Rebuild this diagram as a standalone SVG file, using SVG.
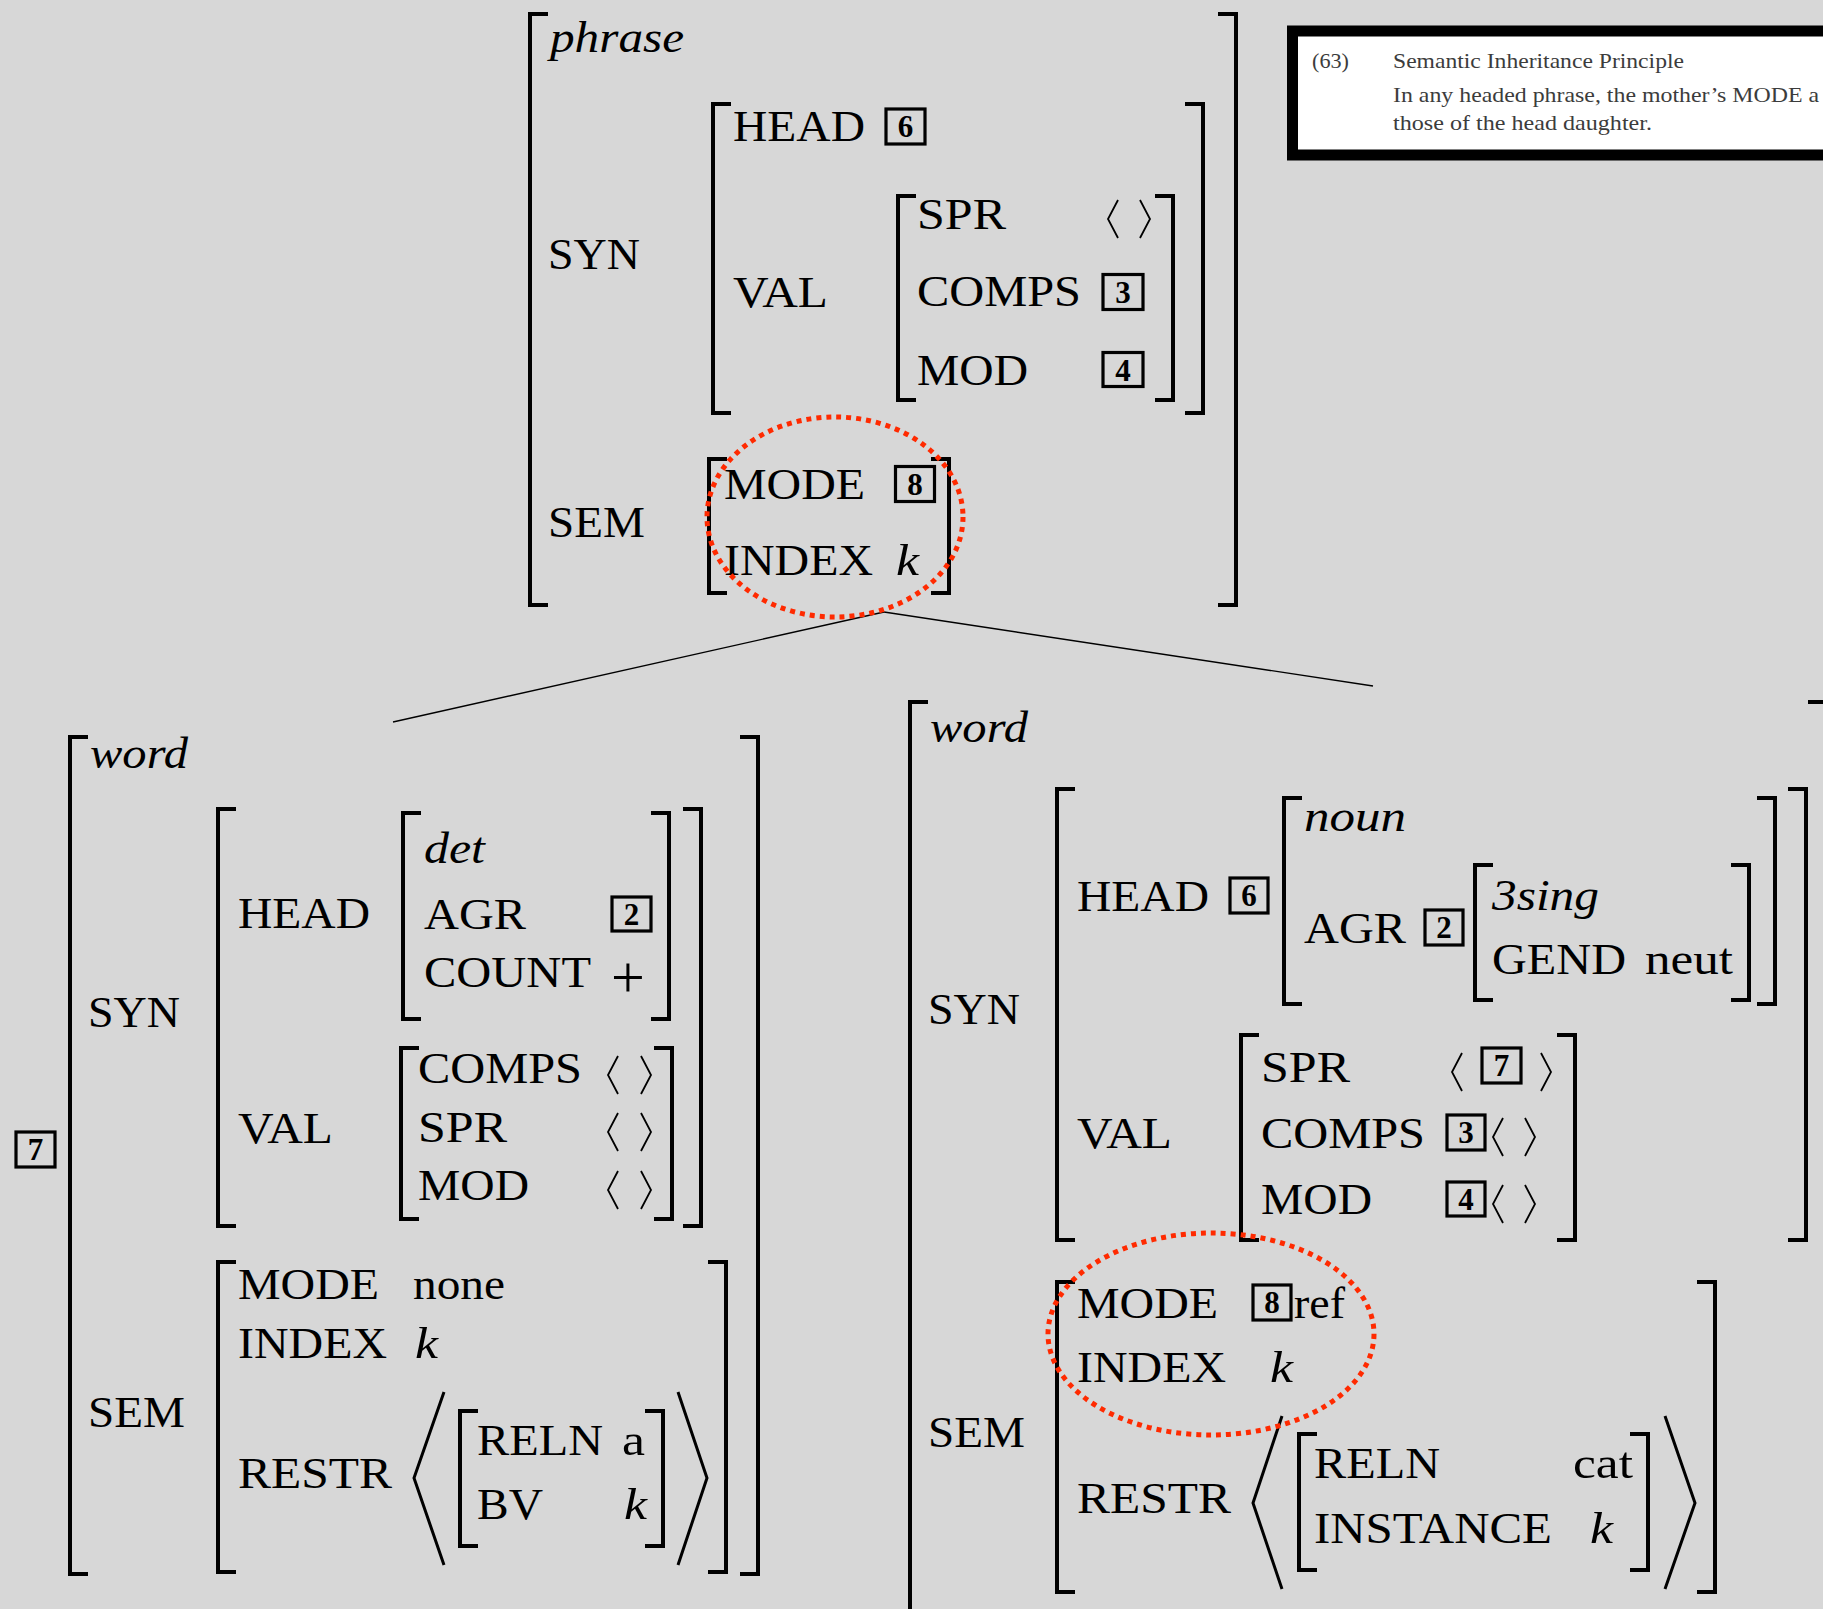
<svg xmlns="http://www.w3.org/2000/svg" width="1823" height="1609" viewBox="0 0 1823 1609">
  <style>
    .t { font-family: "Liberation Serif", "DejaVu Serif", serif; font-size: 45px; fill: #000; }
    .i { font-style: italic; }
    .n { font-family: "Liberation Serif", "DejaVu Serif", serif; font-weight: bold; font-size: 31px; text-anchor: middle; fill: #000; }
    .br { fill: none; stroke: #000; stroke-width: 4; stroke-linejoin: miter; }
    .ang { fill: none; stroke: #000; stroke-width: 1.8; }
    .big { fill: none; stroke: #000; stroke-width: 3; }
    .bx { fill: none; stroke: #000; stroke-width: 3.2; }
    .ring { fill: none; stroke: #ff2a00; stroke-width: 5; stroke-dasharray: 5 5; }
    .edge { stroke: #000; stroke-width: 1.4; fill: none; }
    .p { font-family: "Liberation Serif", "DejaVu Serif", serif; font-size: 21.5px; fill: #3c3c3c; }
  </style>
  <rect width="1823" height="1609" fill="#d7d7d7"/>

  <!-- principle box -->
  <g id="principle">
    <rect x="1292.5" y="31" width="560" height="124" fill="#fff" stroke="#000" stroke-width="11"/>
    <text class="p" x="1312" y="68" textLength="37" lengthAdjust="spacingAndGlyphs">(63)</text>
    <text class="p" x="1393" y="68" textLength="291" lengthAdjust="spacingAndGlyphs">Semantic Inheritance Principle</text>
    <text class="p" x="1393" y="102" textLength="426" lengthAdjust="spacingAndGlyphs">In any headed phrase, the mother’s MODE a</text>
    <text class="p" x="1393" y="130" textLength="259" lengthAdjust="spacingAndGlyphs">those of the head daughter.</text>
  </g>

  <!-- tree branches -->
  <g id="connectors">
    <line class="edge" x1="884" y1="612" x2="393" y2="722"/>
    <line class="edge" x1="884" y1="612" x2="1373" y2="686"/>
  </g>

  <!-- mother: phrase -->
  <g id="phrase">
    <path class="br" d="M548 14 H530 V605 H548"/>
    <path class="br" d="M1218 14 H1236 V605 H1218"/>
    <text class="t i" x="550" y="52" textLength="134" lengthAdjust="spacingAndGlyphs">phrase</text>
    <text class="t" x="548" y="269" textLength="92" lengthAdjust="spacingAndGlyphs">SYN</text>
    <path class="br" d="M731 104 H713 V413 H731"/>
    <path class="br" d="M1185 104 H1203 V413 H1185"/>
    <text class="t" x="733" y="141" textLength="132" lengthAdjust="spacingAndGlyphs">HEAD</text>
    <rect class="bx" x="886" y="109" width="39" height="35"/>
    <text class="n" x="905.5" y="137">6</text>
    <text class="t" x="733" y="307" textLength="95" lengthAdjust="spacingAndGlyphs">VAL</text>
    <path class="br" d="M916 196 H898 V400 H916"/>
    <path class="br" d="M1155 196 H1173 V400 H1155"/>
    <text class="t" x="917" y="229" textLength="89" lengthAdjust="spacingAndGlyphs">SPR</text>
    <path class="ang" d="M1118 200 L1108 219 L1118 238"/>
    <path class="ang" d="M1140 200 L1150 219 L1140 238"/>
    <text class="t" x="917" y="306" textLength="164" lengthAdjust="spacingAndGlyphs">COMPS</text>
    <rect class="bx" x="1103" y="274.5" width="40" height="35"/>
    <text class="n" x="1123" y="303">3</text>
    <text class="t" x="917" y="385" textLength="111" lengthAdjust="spacingAndGlyphs">MOD</text>
    <rect class="bx" x="1103" y="352.5" width="40" height="34"/>
    <text class="n" x="1123" y="380.5">4</text>
    <text class="t" x="548" y="537" textLength="97" lengthAdjust="spacingAndGlyphs">SEM</text>
    <path class="br" d="M727 459 H709 V593 H727"/>
    <path class="br" d="M931 459 H949 V593 H931"/>
    <text class="t" x="724" y="499" textLength="141" lengthAdjust="spacingAndGlyphs">MODE</text>
    <rect class="bx" x="895.5" y="466.5" width="39" height="35"/>
    <text class="n" x="915" y="495">8</text>
    <text class="t" x="724" y="575" textLength="149" lengthAdjust="spacingAndGlyphs">INDEX</text>
    <text class="t i" x="896" y="575" textLength="23" lengthAdjust="spacingAndGlyphs">k</text>
    <ellipse class="ring" cx="835" cy="517" rx="128" ry="100"/>
  </g>

  <!-- daughter: determiner word -->
  <g id="det-word">
    <rect class="bx" x="16" y="1132" width="39" height="35"/>
    <text class="n" x="35.5" y="1160">7</text>
    <path class="br" d="M88 737 H70 V1574 H88"/>
    <path class="br" d="M740 737 H758 V1574 H740"/>
    <text class="t i" x="90" y="768" textLength="98" lengthAdjust="spacingAndGlyphs">word</text>
    <text class="t" x="88" y="1027" textLength="92" lengthAdjust="spacingAndGlyphs">SYN</text>
    <path class="br" d="M236 809 H218 V1226 H236"/>
    <path class="br" d="M683 809 H701 V1226 H683"/>
    <text class="t" x="238" y="928" textLength="132" lengthAdjust="spacingAndGlyphs">HEAD</text>
    <path class="br" d="M421 813 H403 V1019 H421"/>
    <path class="br" d="M651 813 H669 V1019 H651"/>
    <text class="t i" x="424" y="863" textLength="61" lengthAdjust="spacingAndGlyphs">det</text>
    <text class="t" x="424" y="929" textLength="102" lengthAdjust="spacingAndGlyphs">AGR</text>
    <rect class="bx" x="612" y="897" width="39" height="34"/>
    <text class="n" x="631.5" y="924.5">2</text>
    <text class="t" x="424" y="987" textLength="167" lengthAdjust="spacingAndGlyphs">COUNT</text>
    <text class="t" x="628" y="997" style="font-size:60px;text-anchor:middle">+</text>
    <text class="t" x="238" y="1143" textLength="95" lengthAdjust="spacingAndGlyphs">VAL</text>
    <path class="br" d="M419 1048 H401 V1219 H419"/>
    <path class="br" d="M654 1048 H672 V1219 H654"/>
    <text class="t" x="418" y="1083" textLength="164" lengthAdjust="spacingAndGlyphs">COMPS</text>
    <path class="ang" d="M618 1056 L608 1075 L618 1094"/>
    <path class="ang" d="M641 1056 L651 1075 L641 1094"/>
    <text class="t" x="418" y="1142" textLength="89" lengthAdjust="spacingAndGlyphs">SPR</text>
    <path class="ang" d="M618 1113 L608 1132 L618 1151"/>
    <path class="ang" d="M641 1113 L651 1132 L641 1151"/>
    <text class="t" x="418" y="1200" textLength="111" lengthAdjust="spacingAndGlyphs">MOD</text>
    <path class="ang" d="M618 1171 L608 1190 L618 1209"/>
    <path class="ang" d="M641 1171 L651 1190 L641 1209"/>
    <text class="t" x="88" y="1427" textLength="97" lengthAdjust="spacingAndGlyphs">SEM</text>
    <path class="br" d="M236 1262 H218 V1572 H236"/>
    <path class="br" d="M708 1262 H726 V1572 H708"/>
    <text class="t" x="238" y="1299" textLength="141" lengthAdjust="spacingAndGlyphs">MODE</text>
    <text class="t" x="413" y="1299" textLength="92" lengthAdjust="spacingAndGlyphs">none</text>
    <text class="t" x="238" y="1358" textLength="149" lengthAdjust="spacingAndGlyphs">INDEX</text>
    <text class="t i" x="415" y="1358" textLength="23" lengthAdjust="spacingAndGlyphs">k</text>
    <text class="t" x="238" y="1488" textLength="154" lengthAdjust="spacingAndGlyphs">RESTR</text>
    <path class="big" d="M444 1392 L414 1478 L444 1565"/>
    <path class="big" d="M678 1392 L707 1478 L678 1565"/>
    <path class="br" d="M478 1411 H460 V1546 H478"/>
    <path class="br" d="M645 1411 H663 V1546 H645"/>
    <text class="t" x="477" y="1455" textLength="126" lengthAdjust="spacingAndGlyphs">RELN</text>
    <text class="t" x="622" y="1455" textLength="23" lengthAdjust="spacingAndGlyphs">a</text>
    <text class="t" x="477" y="1519" textLength="66" lengthAdjust="spacingAndGlyphs">BV</text>
    <text class="t i" x="624" y="1519" textLength="23" lengthAdjust="spacingAndGlyphs">k</text>
  </g>

  <!-- daughter: noun word -->
  <g id="noun-word">
    <path class="br" d="M928 702 H910 V1620"/>
    <path class="br" d="M1808 702 H1826 V1620"/>
    <text class="t i" x="930" y="742" textLength="98" lengthAdjust="spacingAndGlyphs">word</text>
    <text class="t" x="928" y="1024" textLength="92" lengthAdjust="spacingAndGlyphs">SYN</text>
    <path class="br" d="M1075 789 H1057 V1240 H1075"/>
    <path class="br" d="M1788 789 H1806 V1240 H1788"/>
    <text class="t" x="1077" y="911" textLength="132" lengthAdjust="spacingAndGlyphs">HEAD</text>
    <rect class="bx" x="1230" y="878" width="38" height="35"/>
    <text class="n" x="1249" y="906">6</text>
    <path class="br" d="M1302 798 H1284 V1004 H1302"/>
    <path class="br" d="M1757 798 H1775 V1004 H1757"/>
    <text class="t i" x="1304" y="831" textLength="102" lengthAdjust="spacingAndGlyphs">noun</text>
    <text class="t" x="1304" y="943" textLength="102" lengthAdjust="spacingAndGlyphs">AGR</text>
    <rect class="bx" x="1425" y="910" width="38" height="35"/>
    <text class="n" x="1444" y="938">2</text>
    <path class="br" d="M1493 865 H1475 V1000 H1493"/>
    <path class="br" d="M1731 865 H1749 V1000 H1731"/>
    <text class="t i" x="1492" y="910" textLength="107" lengthAdjust="spacingAndGlyphs">3sing</text>
    <text class="t" x="1492" y="974" textLength="134" lengthAdjust="spacingAndGlyphs">GEND</text>
    <text class="t" x="1645" y="974" textLength="88" lengthAdjust="spacingAndGlyphs">neut</text>
    <text class="t" x="1077" y="1148" textLength="95" lengthAdjust="spacingAndGlyphs">VAL</text>
    <path class="br" d="M1259 1035 H1241 V1240 H1259"/>
    <path class="br" d="M1557 1035 H1575 V1240 H1557"/>
    <text class="t" x="1261" y="1082" textLength="89" lengthAdjust="spacingAndGlyphs">SPR</text>
    <path class="ang" d="M1462 1053 L1452 1072 L1462 1091"/>
    <rect class="bx" x="1482" y="1048" width="39" height="35"/>
    <text class="n" x="1501.5" y="1076">7</text>
    <path class="ang" d="M1541 1053 L1551 1072 L1541 1091"/>
    <text class="t" x="1261" y="1148" textLength="164" lengthAdjust="spacingAndGlyphs">COMPS</text>
    <rect class="bx" x="1447" y="1115" width="38" height="35"/>
    <text class="n" x="1466" y="1143">3</text>
    <path class="ang" d="M1503 1118 L1493 1137 L1503 1156"/>
    <path class="ang" d="M1525 1118 L1535 1137 L1525 1156"/>
    <text class="t" x="1261" y="1214" textLength="111" lengthAdjust="spacingAndGlyphs">MOD</text>
    <rect class="bx" x="1447" y="1182" width="38" height="34"/>
    <text class="n" x="1466" y="1209.5">4</text>
    <path class="ang" d="M1503 1185 L1493 1204 L1503 1223"/>
    <path class="ang" d="M1525 1185 L1535 1204 L1525 1223"/>
    <text class="t" x="928" y="1447" textLength="97" lengthAdjust="spacingAndGlyphs">SEM</text>
    <path class="br" d="M1075 1282 H1057 V1592 H1075"/>
    <path class="br" d="M1697 1282 H1715 V1592 H1697"/>
    <text class="t" x="1077" y="1318" textLength="141" lengthAdjust="spacingAndGlyphs">MODE</text>
    <rect class="bx" x="1253" y="1285" width="38" height="35"/>
    <text class="n" x="1272" y="1313">8</text>
    <text class="t" x="1294" y="1318" textLength="51" lengthAdjust="spacingAndGlyphs">ref</text>
    <text class="t" x="1077" y="1382" textLength="149" lengthAdjust="spacingAndGlyphs">INDEX</text>
    <text class="t i" x="1270" y="1382" textLength="23" lengthAdjust="spacingAndGlyphs">k</text>
    <text class="t" x="1077" y="1513" textLength="154" lengthAdjust="spacingAndGlyphs">RESTR</text>
    <path class="big" d="M1282 1416 L1253 1503 L1282 1589"/>
    <path class="big" d="M1665 1416 L1695 1503 L1665 1589"/>
    <path class="br" d="M1317 1434 H1299 V1570 H1317"/>
    <path class="br" d="M1630 1434 H1648 V1570 H1630"/>
    <text class="t" x="1314" y="1478" textLength="126" lengthAdjust="spacingAndGlyphs">RELN</text>
    <text class="t" x="1573" y="1478" textLength="60" lengthAdjust="spacingAndGlyphs">cat</text>
    <text class="t" x="1314" y="1543" textLength="238" lengthAdjust="spacingAndGlyphs">INSTANCE</text>
    <text class="t i" x="1590" y="1543" textLength="23" lengthAdjust="spacingAndGlyphs">k</text>
    <ellipse class="ring" cx="1211" cy="1334" rx="163" ry="101"/>
  </g>
</svg>
